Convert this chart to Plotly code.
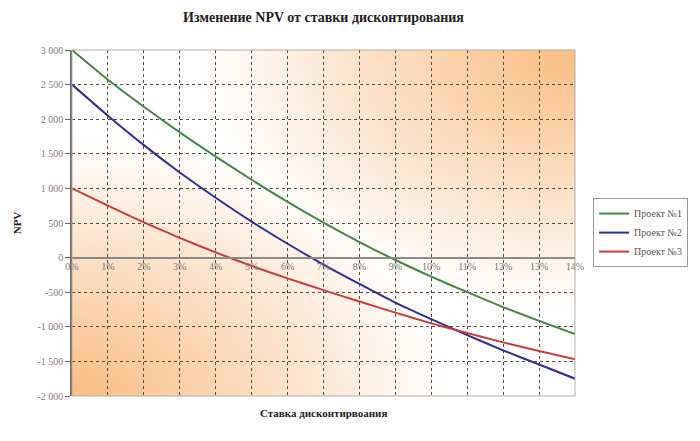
import numpy as np
import plotly.graph_objects as go

rates = list(range(0, 15))
x_tick_text = [f"{r}%" for r in rates]
npv_project1 = [3000, 2570, 2180, 1810, 1460, 1125, 805, 505, 225, -35, -275, -500, -715, -915, -1105]
npv_project2 = [2500, 2050, 1625, 1230, 865, 520, 200, -100, -380, -650, -890, -1120, -1340, -1545, -1750]
npv_project3 = [1000, 750, 510, 285, 75, -120, -300, -470, -635, -795, -950, -1090, -1225, -1350, -1470]
y_tick_vals = [-2000, -1500, -1000, -500, 0, 500, 1000, 1500, 2000, 2500, 3000]
y_tick_text = ["-2 000", "-1 500", "-1 000", "-500", "0", "500", "1 000", "1 500", "2 000", "2 500", "3 000"]
series_names = ["Проект №1", "Проект №2", "Проект №3"]
series_colors = ["#3c8a44", "#2e2e98", "#cc3b3b"]

SERIF = "Liberation Serif, Times New Roman, serif"

fig = go.Figure()

# decorative background gradient (orange glow in bottom-left and top-right corners)
n = 200
gx = np.linspace(0, 1, n)
gy = np.linspace(0, 1, n)
GX, GY = np.meshgrid(gx, gy)
d_bl = np.hypot(GX, GY)
d_tr = np.hypot(1 - GX, 1 - GY)
Z = np.maximum(np.clip(1 - d_bl / 0.75, 0, 1), np.clip(1 - d_tr / 0.75, 0, 1)) ** 1.1
fig.add_trace(go.Heatmap(x=gx, y=gy, z=Z, xaxis="x", yaxis="y", zsmooth="fast",
                         colorscale=[[0, "#ffffff"], [0.3, "#fde9d6"], [0.7, "#fbcfa4"], [1, "#f8bd82"]],
                         showscale=False, hoverinfo="skip"))

for name, vals, col in zip(series_names, [npv_project1, npv_project2, npv_project3], series_colors):
    fig.add_trace(go.Scatter(x=rates, y=vals, mode="lines", name=name, xaxis="x2", yaxis="y2",
                             line=dict(color=col, width=2, shape="spline", smoothing=0.6)))

fig.update_layout(
    width=700, height=441,
    margin=dict(l=72, r=107, t=50, b=45),
    paper_bgcolor="white",
    plot_bgcolor="rgba(0,0,0,0)",
    showlegend=True,
    title=dict(text="<b>Изменение NPV от ставки дисконтирования</b>", x=0.5, xref="paper",
               xanchor="center", y=0.962, yanchor="middle",
               font=dict(family=SERIF, size=14, color="#222")),
    xaxis=dict(domain=[0, 1], range=[0, 1], visible=False, fixedrange=True),
    yaxis=dict(domain=[0, 1], range=[0, 1], visible=False, fixedrange=True),
    xaxis2=dict(domain=[0, 1], range=[0, 14], anchor="free", position=0.4,
                tickvals=rates, ticktext=x_tick_text, ticks="",
                showgrid=True, gridcolor="#5b4c42", griddash="dot", gridwidth=1,
                showline=True, linecolor="#8a8a8a", linewidth=1.5, zeroline=False,
                tickfont=dict(family=SERIF, size=10, color="#777")),
    yaxis2=dict(domain=[0, 1], range=[-2000, 3000], anchor="x2",
                tickvals=y_tick_vals, ticktext=y_tick_text, ticks="outside", ticklen=5,
                tickcolor="#666", showgrid=True, gridcolor="#5b4c42", griddash="dot", gridwidth=1,
                showline=True, linecolor="#666", linewidth=1.5, zeroline=False,
                tickfont=dict(family=SERIF, size=10, color="#8a7a7a"),
                title=dict(text="<b>NPV</b>", font=dict(family=SERIF, size=11, color="#222"), standoff=14)),
    legend=dict(x=1.036, y=0.572, xanchor="left", yanchor="top", bgcolor="white",
                bordercolor="#9a9a9a", borderwidth=1, tracegroupgap=0,
                font=dict(family=SERIF, size=10, color="#555"), itemwidth=30),
    annotations=[dict(text="<b>Ставка дисконтирвоания</b>", x=0.5, xref="paper", y=-0.025,
                      yref="paper", yanchor="top", showarrow=False,
                      font=dict(family=SERIF, size=11, color="#222"))],
    shapes=[dict(type="rect", xref="paper", yref="paper", x0=0, x1=1, y0=0, y1=1,
                 line=dict(color="#b8aaa0", width=1), fillcolor="rgba(0,0,0,0)", layer="above")],
)

fig.write_html("out.html")
